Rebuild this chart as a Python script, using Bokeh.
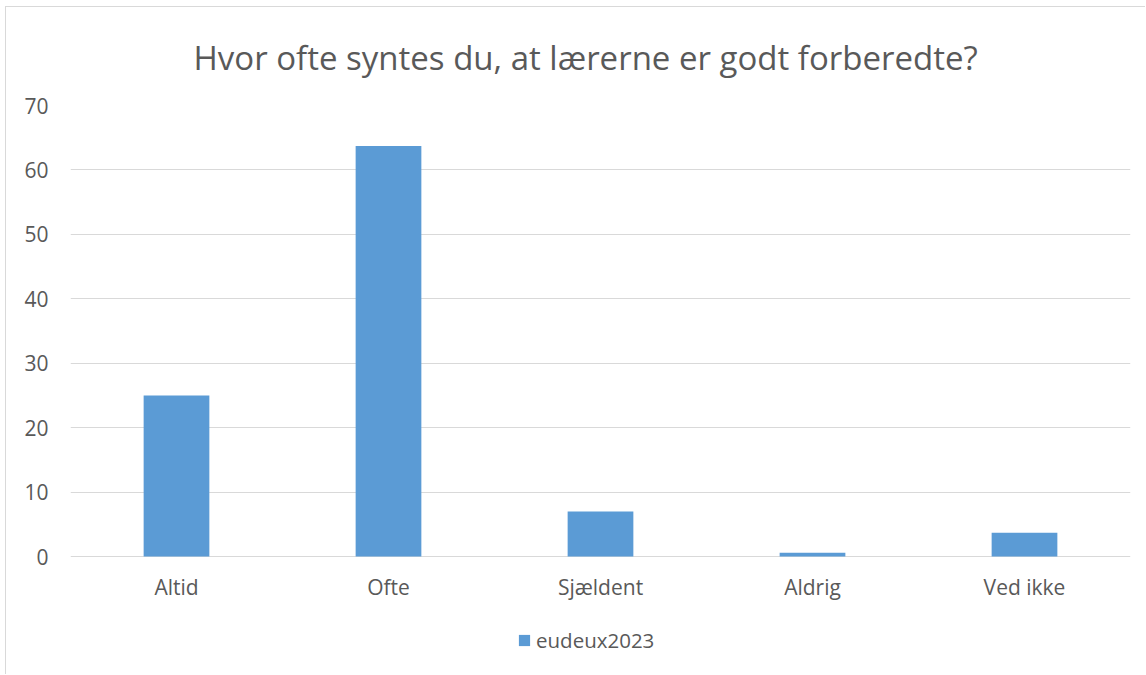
from bokeh.plotting import figure
from bokeh.models import ColumnDataSource, FactorRange, Range1d, Legend, LegendItem, Title, FixedTicker, Grid
from bokeh.core.properties import value
from bokeh.embed import file_html
from bokeh.resources import INLINE

categories = ["Altid", "Ofte", "Sjældent", "Aldrig", "Ved ikke"]
values = [25.0, 63.7, 7.0, 0.6, 3.7]
series_name = "eudeux2023"
y_ticks = [0, 10, 20, 30, 40, 50, 60, 70]
title_text = "Hvor ofte syntes du, at lærerne er godt forberedte?"

FONT = "Open Sans"
GRAY = "#595959"
GRID = "#d9d9d9"
BAR = "#5b9bd5"

source = ColumnDataSource(dict(cat=categories, val=values, lab_y=[-4.8] * len(categories)))

p = figure(
    width=1140, height=668,
    x_range=FactorRange(*categories, range_padding=0.0),
    y_range=Range1d(-17.38, 70),
    x_axis_location=None,
    output_backend="svg", toolbar_location=None,
    min_border_left=64, min_border_right=16, min_border_top=98, min_border_bottom=7,
)
p.styles = {"border-left": "1px solid #d9d9d9", "border-top": "1px solid #d9d9d9",
            "margin-left": "5px", "margin-top": "6px"}
p.x_range.range_padding = 0
p.x_range.factor_padding = 0
p.outline_line_color = None

r = p.vbar(x="cat", top="val", width=0.31, source=source, fill_color=BAR, line_color=None)

# category labels (x axis)
p.text(x="cat", y="lab_y", text="cat", source=source, text_font=value(FONT),
       text_font_size="21px", text_color=GRAY, text_align="center", text_baseline="middle")

t = Title(text=title_text, align="left", text_font=FONT, text_font_size="33px",
          text_color=GRAY, text_font_style="normal", standoff=51, offset=123)
p.add_layout(t, "above")

p.yaxis.ticker = FixedTicker(ticks=y_ticks)
p.yaxis.axis_line_color = None
p.yaxis.major_tick_line_color = None
p.yaxis.minor_tick_line_color = None
p.yaxis.major_tick_out = 0
p.yaxis.major_label_standoff = 22
p.yaxis.major_label_text_font = FONT
p.yaxis.major_label_text_font_size = "21px"
p.yaxis.major_label_text_color = GRAY

for g in p.select(type=Grid):
    if g.dimension == 0:
        g.grid_line_color = None
    else:
        g.ticker = FixedTicker(ticks=y_ticks)
        g.grid_line_color = GRID
        g.grid_line_width = 1

legend = Legend(items=[LegendItem(label=series_name, renderers=[r])],
                orientation="horizontal", location=(447, 14),
                label_text_font=FONT, label_text_font_size="20.5px", label_text_color=GRAY,
                glyph_width=14, glyph_height=14, label_standoff=5,
                padding=0, margin=0, border_line_color=None, background_fill_alpha=0)
p.add_layout(legend, "center")

open("out.html", "w").write(file_html(p, INLINE))
